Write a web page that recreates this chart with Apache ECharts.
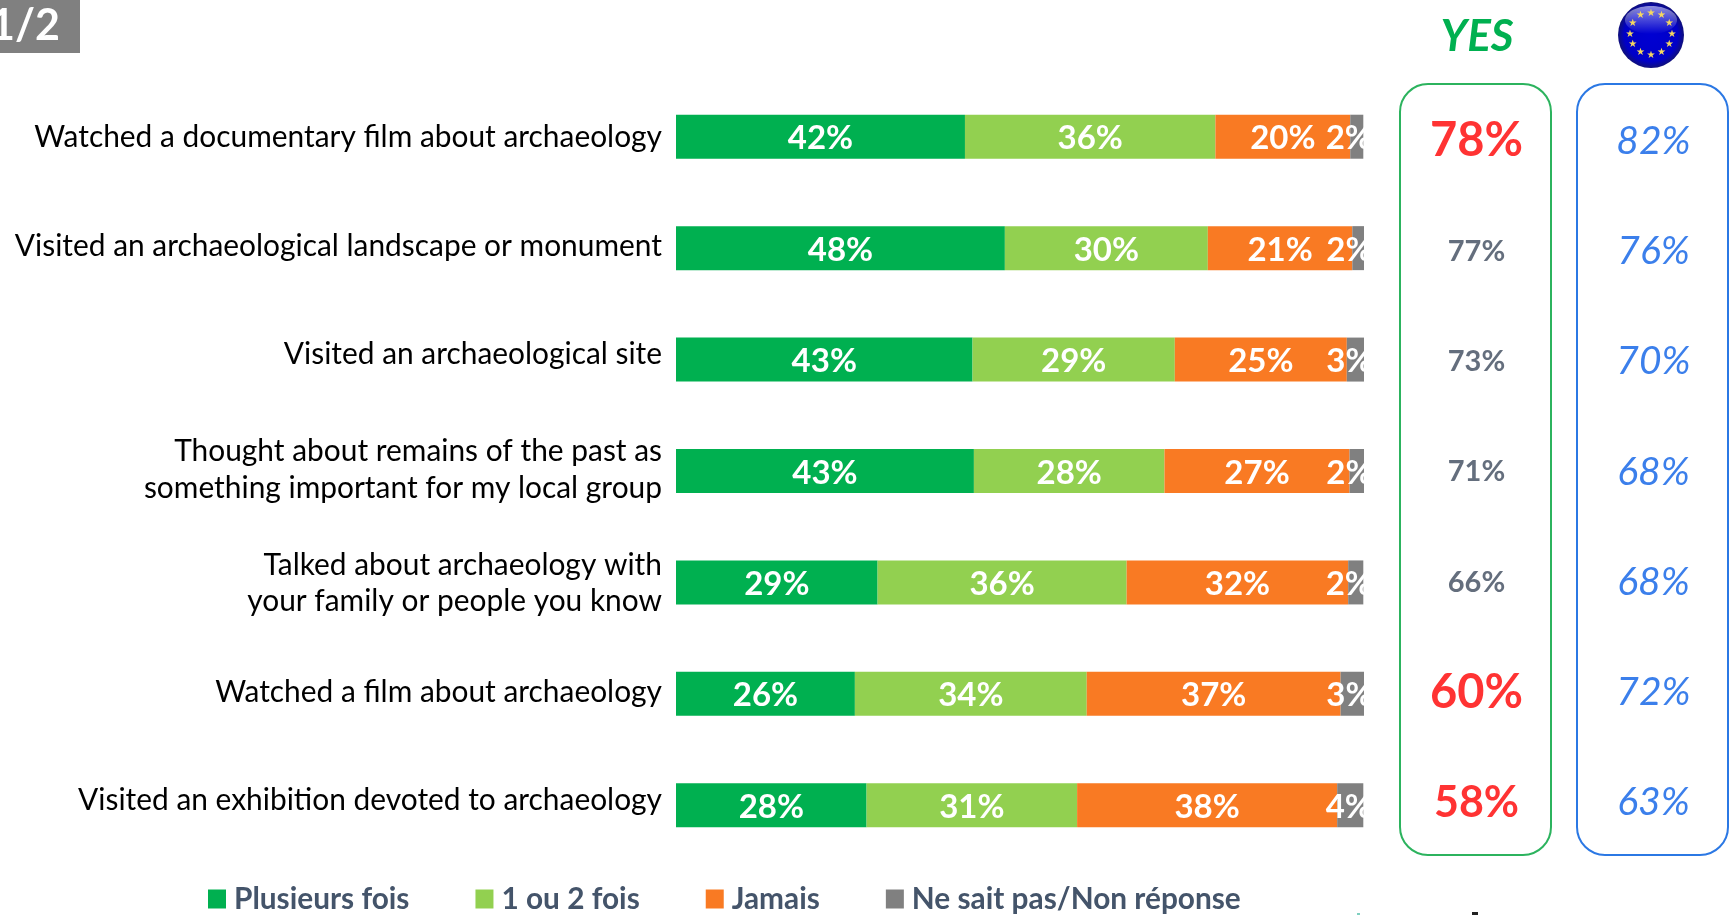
<!DOCTYPE html>
<html><head><meta charset="utf-8">
<style>html,body{margin:0;padding:0;background:#fff;overflow:hidden}#c{width:1729px;height:915px}</style>
<script src="https://cdn.jsdelivr.net/npm/echarts@6/dist/echarts.min.js"></script>
</head><body><div id="c"></div>
<script>
const categories = [
  "Watched a documentary film about archaeology",
  "Visited an archaeological landscape or monument",
  "Visited an archaeological site",
  "Thought about remains of the past as\nsomething important for my local group",
  "Talked about archaeology with\nyour family or people you know",
  "Watched a film about archaeology",
  "Visited an exhibition devoted to archaeology"
];
const seriesNames = ["Plusieurs fois", "1 ou 2 fois", "Jamais", "Ne sait pas/Non réponse"];
const plusieurs = [42.0, 47.8, 43.1, 43.3, 29.3, 26.0, 27.7];
const uneDeux   = [36.4, 29.5, 29.4, 27.7, 36.2, 33.7, 30.6];
const jamais    = [19.6, 21.0, 25.0, 26.9, 32.2, 36.9, 37.8];
const nsp       = [1.9,  1.8,  2.5,  2.1,  2.2,  3.4,  3.8];
const yesValues = [78, 77, 73, 71, 66, 60, 58];
const euValues  = [82, 76, 70, 68, 68, 72, 63];

const FONT = 'Lato, "Open Sans", sans-serif';
const colors = ['#00b050', '#92d050', '#f97a23', '#808080'];
const labelShift = [0.5, -2, -5.5, -1.8, 2, -1.5, -4.5];
const yesStyle = v => v === 58 ? {fontSize: 43, color: '#ff0000'}
  : (v === 78 || v === 60) ? {fontSize: 47, color: '#ff0000'}
  : {fontSize: 29, color: '#3d4a5c'};

const barSeries = [plusieurs, uneDeux, jamais, nsp].map((d, i) => ({
  name: seriesNames[i], type: 'bar', stack: 'all', barWidth: 44,
  xAxisIndex: 0, yAxisIndex: 0, data: d,
  itemStyle: {color: colors[i]},
  label: {
    show: true, color: '#fff', fontFamily: FONT, fontWeight: 'bold', fontSize: 33,
    position: i === 3 ? 'insideRight' : 'inside', distance: i === 3 ? -8.5 : 0,
    offset: [0, 2], formatter: p => Math.round(p.value) + '%'
  }
}));

const panelSeries = (vals, idx, styleFn) => ({
  type: 'scatter', xAxisIndex: idx, yAxisIndex: idx, symbolSize: 1, silent: true,
  itemStyle: {color: 'transparent'},
  data: vals.map((v, i) => ({
    value: [0.5, i],
    label: Object.assign({show: true, position: 'inside', fontFamily: FONT, formatter: v + '%'}, styleFn(v))
  }))
});

const hiddenX = g => ({type: 'value', gridIndex: g, min: 0, max: 1, show: false});
const hiddenY = g => ({type: 'category', gridIndex: g, inverse: true, show: false, data: categories});

/* one rich style per row, used to nudge that row's label vertically */
const catText = {color: '#000', fontFamily: FONT, fontSize: 29.9, lineHeight: 38.6};
const catRich = {base: catText};
labelShift.forEach((s, i) => {
  catRich['up' + i] = Object.assign({}, catText, {padding: [0, 0, Math.max(0, -2 * s), 0]});
  catRich['dn' + i] = Object.assign({}, catText, {padding: [Math.max(0, 2 * s), 0, 0, 0]});
});
const catFormatter = (value, index) => {
  const lines = value.split('\n');
  const s = labelShift[index];
  return lines.map((l, k) => {
    if (s >= 0 && k === 0) return '{dn' + index + '|' + l + '}';
    if (s < 0 && k === lines.length - 1) return '{up' + index + '|' + l + '}';
    return '{base|' + l + '}';
  }).join('\n');
};

const starAngles = [0,1,2,3,4,5,6,7,8,9,10,11];
const stars = starAngles.map(k => ({
  type: 'text', z: 12, style: {
    text: '★', fill: '#f6d860', font: '10px "DejaVu Sans"', align: 'center', verticalAlign: 'middle',
    x: 1651 + 21 * Math.sin(k * Math.PI / 6), y: 34 - 21 * Math.cos(k * Math.PI / 6)
  }
}));

const chart = echarts.init(document.getElementById('c'));
chart.setOption({
  animation: false,
  backgroundColor: '#fff',
  textStyle: {fontFamily: FONT},
  legend: {
    data: seriesNames, left: 203, top: 879, icon: 'rect', itemWidth: 18, itemHeight: 19, itemGap: 66,
    selectedMode: false,
    textStyle: {color: '#44546a', fontFamily: FONT, fontWeight: 'bold', fontSize: 29.8, padding: [0, 0, 0, 3]}
  },
  grid: [
    {left: 676, top: 81, width: 688, height: 780},
    {left: 1401, top: 86, width: 151, height: 772},
    {left: 1578, top: 86, width: 151, height: 772}
  ],
  xAxis: [
    {type: 'value', gridIndex: 0, min: 0, max: 100, show: false},
    hiddenX(1), hiddenX(2)
  ],
  yAxis: [
    {type: 'category', gridIndex: 0, inverse: true, data: categories,
     axisLine: {show: false}, axisTick: {show: false},
     axisLabel: {formatter: catFormatter, rich: catRich, align: 'right', margin: 14, interval: 0}},
    hiddenY(1), hiddenY(2)
  ],
  series: [
    ...barSeries,
    panelSeries(yesValues, 1, v => Object.assign({fontWeight: 'bold'}, yesStyle(v))),
    panelSeries(euValues, 2, () => ({fontStyle: 'italic', fontSize: 39, color: '#0a5fe6'}))
  ],
  graphic: [
    {type: 'rect', shape: {x: 0, y: 0, width: 80, height: 53}, style: {fill: '#808080'}},
    {type: 'text', z: 5, style: {text: '1/2', fill: '#fff', font: 'bold 43px Lato', align: 'right', verticalAlign: 'middle', x: 60, y: 26}},
    {type: 'text', style: {text: 'YES', fill: '#00b050', font: 'italic bold 44px Lato', align: 'center', verticalAlign: 'middle', x: 1477, y: 37}},
    {type: 'rect', shape: {x: 1400, y: 84, width: 151, height: 771, r: 28}, style: {fill: 'none', stroke: '#2cb35e', lineWidth: 2}},
    {type: 'rect', shape: {x: 1577, y: 84, width: 151, height: 771, r: 28}, style: {fill: 'none', stroke: '#2b78e4', lineWidth: 2}},
    {type: 'circle', z: 10, shape: {cx: 1651, cy: 35, r: 33}, style: {
      fill: new echarts.graphic.RadialGradient(0.5, 0.5, 0.5, [
        {offset: 0, color: '#0000d2'}, {offset: 0.8, color: '#0000c8'}, {offset: 1, color: '#10107a'}])}},
    {type: 'ellipse', z: 11, shape: {cx: 1651, cy: 20, rx: 26, ry: 14}, style: {
      fill: new echarts.graphic.LinearGradient(0, 0, 0, 1, [
        {offset: 0, color: 'rgba(255,255,255,0.55)'}, {offset: 1, color: 'rgba(255,255,255,0)'}])}},
    ...stars,
    {type: 'rect', shape: {x: 1472, y: 912, width: 6, height: 3}, style: {fill: '#222'}},
    {type: 'rect', shape: {x: 1357, y: 913, width: 3, height: 2}, style: {fill: '#7fd0c0'}}
  ]
});
</script></body></html>
